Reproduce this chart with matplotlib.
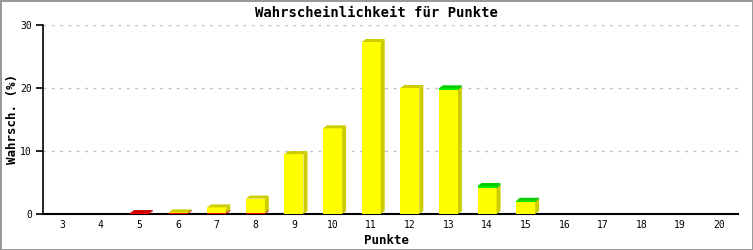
import matplotlib
matplotlib.use("Agg")
import matplotlib.pyplot as plt
from matplotlib.patches import Polygon

points = list(range(3, 21))
red    = [0, 0, 0.15, 0.15, 0.2, 0.15, 0, 0, 0, 0, 0, 0, 0, 0, 0, 0, 0, 0]
yellow = [0, 0, 0, 0.1, 0.85, 2.3, 9.5, 13.6, 27.3, 20.0, 19.7, 4.1, 1.9, 0, 0, 0, 0, 0]
green  = [0, 0, 0, 0, 0, 0, 0, 0, 0, 0, 0.25, 0.35, 0.2, 0, 0, 0, 0, 0]
yticks = [0, 10, 20, 30]

series = [(red, "#ff0000", "#cc0000"),
          (yellow, "#ffff00", "#cccc00"),
          (green, "#00ee00", "#00cc00")]

W, H = 753, 250
fig = plt.figure(figsize=(W / 100, H / 100), dpi=100, edgecolor="#999999", linewidth=2)
left, right, bottom, top = 43, 738, 214, 25
ax = fig.add_axes([left / W, (H - bottom) / H, (right - left) / W, (bottom - top) / H])
ax.set_xlim(2.5, 20.5)
ax.set_ylim(0, 30)

px_x = (right - left) / 18.0
px_y = (bottom - top) / 30.0
dx = 4 / px_x
dy = 3 / px_y
bw = 19 / px_x

mono = "DejaVu Sans Mono"
for i, p in enumerate(points):
    base = 0.0
    for vals, front, dark in series:
        v = vals[i]
        if v <= 0:
            continue
        x0, x1 = p - bw / 2, p + bw / 2
        y0, y1 = base, base + v
        ax.add_patch(Polygon([(x0, y0), (x1, y0), (x1, y1), (x0, y1)], closed=True,
                             facecolor=front, edgecolor="none", zorder=3))
        ax.add_patch(Polygon([(x1, y0), (x1 + dx, y0 + dy), (x1 + dx, y1 + dy), (x1, y1)], closed=True,
                             facecolor=dark, edgecolor="none", zorder=3))
        ax.add_patch(Polygon([(x0, y1), (x1, y1), (x1 + dx, y1 + dy), (x0 + dx, y1 + dy)], closed=True,
                             facecolor=dark, edgecolor="none", zorder=3))
        base = y1

for yt in yticks[1:]:
    ax.axhline(yt, color="#c0c0c0", linestyle=(0, (2, 4)), linewidth=1, zorder=1)

for s in ["top", "right"]:
    ax.spines[s].set_visible(False)
ax.spines["left"].set_color("black")
ax.spines["bottom"].set_color("black")
ax.spines["bottom"].set_linewidth(1.5)
ax.spines["left"].set_linewidth(1.2)

ax.set_xticks(points)
ax.set_xticklabels([str(p) for p in points], fontsize=7, family=mono)
ax.tick_params(axis="x", length=0, pad=4)
ax.set_yticks(yticks)
ax.set_yticklabels([str(v) for v in yticks], fontsize=7, family=mono)
ax.tick_params(axis="y", length=5, width=1.2, pad=3)

fig.text(left / W + (right - left) / W / 2 - 0.005, 1 - 240 / H, "Punkte", ha="center", va="center",
         fontsize=9, family=mono, fontweight="bold")
fig.text(13 / W, 1 - 119 / H, "Wahrsch. (%)", ha="center", va="center", rotation=90,
         fontsize=9, family=mono, fontweight="bold")
fig.text(0.5, 1 - 13 / H, "Wahrscheinlichkeit für Punkte", ha="center", va="center",
         fontsize=10, family=mono, fontweight="bold")

fig.savefig("out.png", dpi=100, edgecolor=fig.get_edgecolor())
